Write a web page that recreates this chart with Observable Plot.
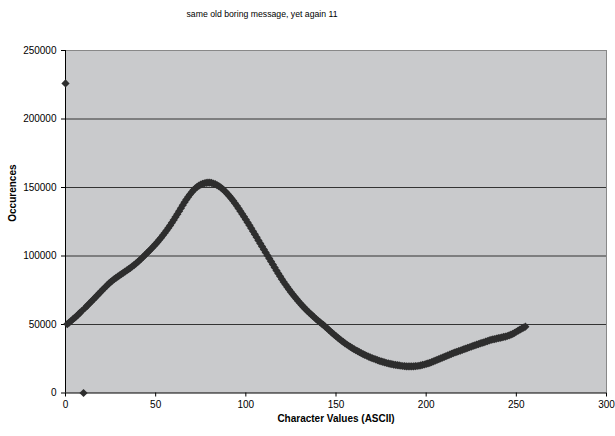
<!DOCTYPE html>
<html><head><meta charset="utf-8">
<script src="https://cdn.jsdelivr.net/npm/d3@7"></script>
<script src="https://cdn.jsdelivr.net/npm/@observablehq/plot@0.6"></script>
<style>
body{margin:0;background:#fff;}
#wrap{position:relative;width:615px;height:436px;}
#title{position:absolute;left:0;top:9px;width:524px;text-align:center;font:8.7px "Liberation Sans",Arial,sans-serif;color:#000;}
#chart svg{display:block;}
</style></head><body>
<div id="wrap"><div id="chart"></div><div id="title"></div></div>
<script>
const title = "same old boring message, yet again 11";
const xLabel = "Character Values (ASCII)";
const yLabel = "Occurences";
const xTicks = [0, 50, 100, 150, 200, 250, 300];
const yTicks = [0, 50000, 100000, 150000, 200000, 250000];
const occurrences = [
  226000,
  50300,51400,52500,53700,54800,56000,57200,58500,59800,
  0,
  62300,63600,65000,66300,67700,69000,70400,71800,73100,74500,
  75900,77200,78500,79800,81000,82100,83100,84100,85000,85900,
  86800,87700,88600,89500,90400,91400,92400,93400,94500,95600,
  96800,98000,99300,100600,101900,103200,104500,105900,107300,108700,
  110200,111800,113400,115100,116800,118600,120400,122300,124300,126300,
  128400,130500,132700,134900,137100,139200,141200,143100,144900,146600,
  148100,149400,150500,151400,152100,152700,153100,153400,153500,153500,
  153300,152900,152400,151800,151000,150100,149000,147800,146500,145100,
  143600,142000,140300,138500,136600,134700,132700,130700,128700,126600,
  124500,122400,120200,118000,115800,113600,111400,109200,107000,104800,
  102600,100400,98200,96000,93800,91600,89400,87300,85200,83100,
  81100,79200,77300,75500,73700,72000,70400,68800,67200,65700,
  64200,62800,61400,60100,58800,57600,56400,55200,54000,52900,
  51800,50700,49700,48500,47300,46100,44900,43700,42600,41500,
  40400,39300,38300,37300,36300,35400,34500,33600,32800,32000,
  31200,30500,29800,29100,28400,27800,27200,26600,26000,25500,
  25000,24500,24000,23500,23100,22700,22300,21900,21600,21300,
  21000,20700,20500,20300,20100,19900,19700,19600,19500,19400,
  19400,19400,19500,19600,19700,19900,20200,20500,20800,21200,
  21600,22000,22500,23050,23600,24150,24700,25250,25800,26350,
  26900,27450,28000,28600,29100,29600,30050,30500,31000,31450,
  31950,32450,32900,33400,33900,34350,34800,35250,35700,36150,
  36600,37000,37450,37900,38350,38800,39100,39400,39700,40000,
  40300,40600,40900,41200,41600,42000,42600,43200,43900,44700,
  45500,46300,47000,47700,48400
];
const charValues = d3.range(occurrences.length);
const data = charValues.map((c, i) => ({c, n: occurrences[i]}));
const gridValues = yTicks.slice(1, -1);

document.getElementById("title").textContent = title;

const chart = Plot.plot({
  width: 615,
  height: 436,
  marginLeft: 65,
  marginRight: 9,
  marginTop: 50,
  marginBottom: 43.5,
  x: {domain: [0, 300]},
  y: {domain: [0, 250000]},
  style: {fontFamily: '"Liberation Sans", Arial, sans-serif', fontSize: "10px", color: "#000", background: "transparent"},
  marks: [
    Plot.frame({fill: "#c9cacc", stroke: null}),
    Plot.ruleY(gridValues, {stroke: "#333", strokeWidth: 1}),
    Plot.ruleY([250000], {stroke: "#888", strokeWidth: 1}),
    Plot.ruleX([300], {stroke: "#888", strokeWidth: 1}),
    Plot.ruleX([0], {stroke: "#000", strokeWidth: 1}),
    Plot.ruleY([0], {stroke: "#000", strokeWidth: 1}),
    Plot.axisY({ticks: yTicks, tickSize: 4, tickPadding: 5, label: null, tickFormat: d => String(d), stroke: "#000"}),
    Plot.axisX({ticks: xTicks, tickSize: 4, tickPadding: 4, label: null, tickFormat: d => String(d), stroke: "#000"}),
    Plot.dot(data, {x: "c", y: "n", symbol: "diamond2", r: 3.7, fill: "#2e2e2e", stroke: null}),
    Plot.text([xLabel], {frameAnchor: "bottom", dy: 28.5, fontWeight: "bold", fontSize: 10}),
    Plot.text([yLabel], {frameAnchor: "left", dx: -53, rotate: -90, fontWeight: "bold", fontSize: 10})
  ]
});
document.getElementById("chart").appendChild(chart);
</script>
</body></html>
